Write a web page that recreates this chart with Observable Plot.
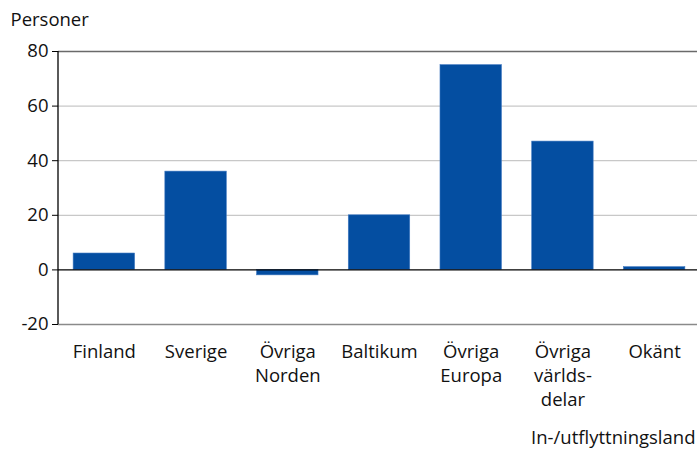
<!DOCTYPE html>
<html>
<head>
<meta charset="utf-8">
<script src="https://cdn.jsdelivr.net/npm/d3@7"></script>
<script src="https://cdn.jsdelivr.net/npm/@observablehq/plot@0.6"></script>
<style>
  html, body { margin: 0; padding: 0; background: #fff; }
  svg { font-family: "Open Sans", sans-serif; }
</style>
</head>
<body>
<div id="chart"></div>
<script>
const categories = ["Finland", "Sverige", "Övriga Norden", "Baltikum", "Övriga Europa", "Övriga världsdelar", "Okänt"];
const values = [6, 36, -2, 20, 75, 47, 1];
const tickLabels = ["Finland", "Sverige", "Övriga\nNorden", "Baltikum", "Övriga\nEuropa", "Övriga\nvärlds-\ndelar", "Okänt"];
const yTicks = [-20, 0, 20, 40, 60, 80];
const yTitle = "Personer";
const xTitle = "In-/utflyttningsland";

const data = categories.map((c, i) => ({category: c, value: values[i]}));
const labelOf = new Map(categories.map((c, i) => [c, tickLabels[i]]));
const FS = 18.5;

const chart = Plot.plot({
  width: 697,
  height: 450,
  marginLeft: 58,
  marginRight: 0,
  marginTop: 51,
  marginBottom: 126,
  style: {fontFamily: "'Open Sans', sans-serif", fontSize: FS + "px", color: "#111", background: "#fff"},
  x: {domain: categories, range: [58, 700], round: false, padding: 0.33, paddingOuter: 0.165},
  y: {domain: [-20, 80]},
  marks: [
    Plot.ruleY(yTicks.filter(d => d > 0 && d < 80), {stroke: "#c8c8c8", strokeWidth: 1.2, strokeOpacity: 1}),
    Plot.ruleY([80], {stroke: "#6a6a6a", strokeWidth: 1.3, strokeOpacity: 1}),
    Plot.ruleY([-20], {stroke: "#8a8a8a", strokeWidth: 1.3, strokeOpacity: 1}),
    Plot.barY(data, {x: "category", y: "value", fill: "#044ea1", stroke: "#3f78c0", strokeWidth: 0.6}),
    Plot.ruleY([0], {stroke: "#000", strokeWidth: 1.3, strokeOpacity: 1}),
    (index, scales, values, dims) => {
      const g = d3.create("svg:g");
      g.append("line")
        .attr("x1", dims.marginLeft).attr("x2", dims.marginLeft)
        .attr("y1", dims.marginTop).attr("y2", dims.height - dims.marginBottom)
        .attr("stroke", "#000").attr("stroke-width", 1.3);
      return g.node();
    },
    Plot.axisY({ticks: yTicks, tickSize: 6, tickPadding: 4, fontSize: FS, label: null, stroke: "#000", strokeOpacity: 1, tickFormat: d => String(d)}),
    Plot.axisX({tickSize: 0, tickPadding: 16, fontSize: FS, lineHeight: 1.3, label: null, tickFormat: d => labelOf.get(d)}),
    Plot.text([yTitle], {frameAnchor: "top-left", dx: -48, dy: -39, textAnchor: "start", fontSize: FS, fill: "#111"}),
    Plot.text([xTitle], {frameAnchor: "bottom-right", dx: -2, dy: 119, textAnchor: "end", fontSize: FS, fill: "#111"})
  ]
});
document.getElementById("chart").appendChild(chart);
</script>
</body>
</html>
